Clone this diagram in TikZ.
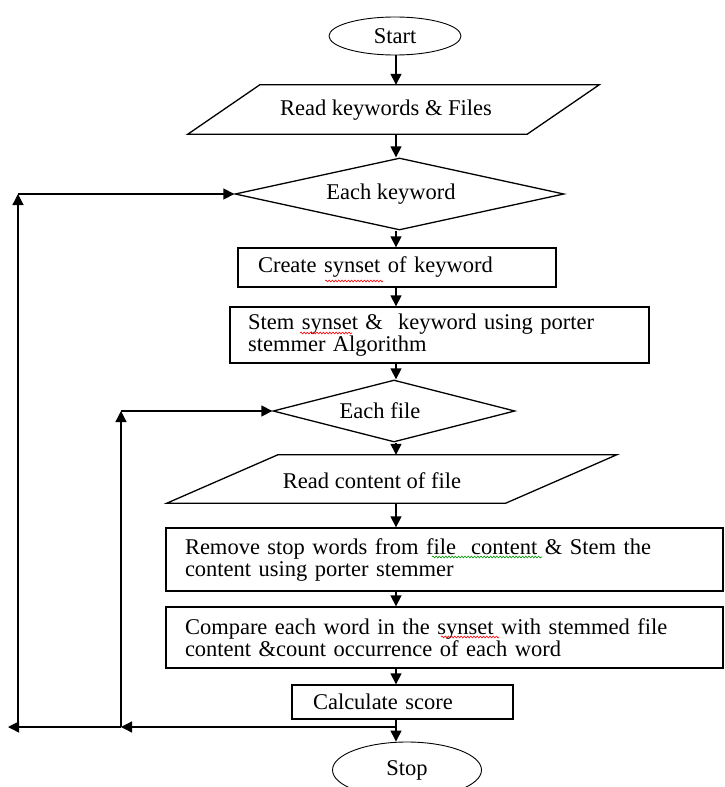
\documentclass[tikz,border=0pt]{standalone}
\usepackage{fontspec}
\setmainfont{Liberation Serif}
\usetikzlibrary{shapes.geometric,arrows.meta,decorations.pathmorphing}
\begin{document}
\begin{tikzpicture}[x=1pt,y=-1pt,
  every node/.style={font=\fontsize{22.5}{22}\selectfont},
  ln/.style={line width=1.3pt,draw=black},
  arr/.style={line width=1.3pt,-{Triangle[length=11pt,width=11pt]}},
  term/.style={ellipse,draw,line width=0.9pt,inner sep=0pt},
  procbox/.style={rectangle,draw,line width=1.3pt,inner ysep=0pt,align=left,anchor=center},
  dia/.style={diamond,draw,line width=1.3pt,inner sep=0pt},
  iobox/.style={rectangle,inner sep=0pt},
  squig/.style={decorate,decoration={snake,amplitude=0.9pt,segment length=3.2pt},line width=0.6pt}
]
\useasboundingbox (0,0) rectangle (724,787);

% terminals
\node[term,minimum width=132pt,minimum height=38pt] (start) at (395,36) {Start};
\node[term,minimum width=149pt,minimum height=56pt] (stop) at (407,770) {Stop};

% input/output parallelograms
\node[iobox,minimum width=339pt,minimum height=49pt] (p1) at (393.5,109.5) {};
\draw[ln] ([xshift=36pt]p1.north west) -- ([xshift=36pt]p1.north east)
  -- ([xshift=-36pt]p1.south east) -- ([xshift=-36pt]p1.south west) -- cycle;
\node (p1t) at (386,110) {Read keywords \& Files};

\node[iobox,minimum width=338.5pt,minimum height=48pt] (p2) at (391.75,479) {};
\draw[ln] ([xshift=55.5pt]p2.north west) -- ([xshift=55.5pt]p2.north east)
  -- ([xshift=-55.5pt]p2.south east) -- ([xshift=-55.5pt]p2.south west) -- cycle;
\node (p2t) at (372,481) {Read content of file};

% decisions
\node[dia,minimum width=329pt,minimum height=72pt] (d1) at (399.5,194) {};
\node (d1t) at (391,194) {Each keyword};
\node[dia,minimum width=242pt,minimum height=62pt] (d2) at (394,411) {};
\node (d2t) at (380,411) {Each file};

% process boxes
\node[procbox,minimum width=318pt,minimum height=39pt,text width=278pt,inner xsep=20pt] (create) at (397,267.5) {Create synset of keyword};
\node[procbox,minimum width=419pt,minimum height=56pt,text width=383pt,inner xsep=18pt] (stem) at (439.5,335) {Stem synset \& \ keyword using porter\\stemmer Algorithm};
\node[procbox,minimum width=557pt,minimum height=63pt,text width=519pt,inner xsep=19pt] (remove) at (444.5,559.5) {Remove stop words from file \ content \& Stem the\\content using porter stemmer};
\node[procbox,minimum width=557pt,minimum height=61pt,text width=519pt,inner xsep=19pt] (compare) at (444.5,637.5) {Compare each word in the synset with stemmed file\\content \&count occurrence of each word};
\node[procbox,minimum width=221pt,minimum height=34pt,text width=179pt,inner xsep=21pt] (calc) at (402.5,702) {Calculate score};

% spell-check squiggles
\draw[squig,red] (325,281) -- (383,281);
\draw[squig,red] (300,333) -- (352,333);
\draw[squig,green!60!black] (432,557) -- (542,557);
\draw[squig,red] (441,637) -- (499,637);

% main flow
\coordinate (spine) at (396,0);
\draw[arr] (start.south -| spine) -- (p1.north -| spine);
\draw[arr] (p1.south -| spine) -- (d1.north -| spine);
\draw[arr] (d1.south -| spine) -- (create.north -| spine);
\draw[arr] (create.south -| spine) -- (stem.north -| spine);
\draw[arr] (stem.south -| spine) -- (d2.north -| spine);
\draw[arr] (d2.south -| spine) -- (p2.north -| spine);
\draw[arr] (p2.south -| spine) -- (remove.north -| spine);
\draw[arr] (remove.south -| spine) -- (compare.north -| spine);
\draw[arr] (compare.south -| spine) -- (calc.north -| spine);
\draw[arr] (calc.south -| spine) -- (stop.north -| spine);

% loops back
\coordinate (junc) at (396,727);
\coordinate (inner) at (121,727);
\coordinate (outer) at (18,727);
\coordinate (outtip) at (8,727);
\draw[arr] (junc) -- (inner);
\draw[arr] (inner) -- (outtip);
\draw[arr] (outer) -- (outer |- d1.west);
\draw[arr] (outer |- d1.west) -- (d1.west);
\draw[arr] (inner) -- (inner |- d2.west);
\draw[arr] (inner |- d2.west) -- (d2.west);
\end{tikzpicture}
\end{document}
